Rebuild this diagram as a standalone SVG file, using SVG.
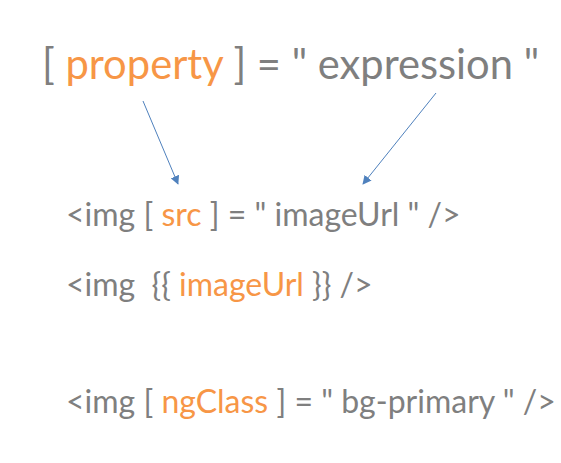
<svg xmlns="http://www.w3.org/2000/svg" width="561" height="463" viewBox="0 0 561 463">
  <style>
    text { font-family: Lato, "Open Sans", "Liberation Sans", sans-serif; fill: #7f7f7f; }
    .hl { fill: #f79646; }
    .big { font-size: 41.7px; }
    .code { font-size: 32px; }
    .conn { stroke: #4f81bd; stroke-width: 1; fill: none; marker-end: url(#arrow); }
  </style>
  <defs>
    <marker id="arrow" viewBox="0 0 10 10" refX="9" refY="5" markerWidth="9" markerHeight="9" orient="auto" markerUnits="userSpaceOnUse">
      <path d="M0,0 L10,5 L0,10 z" fill="#4f81bd"/>
    </marker>
  </defs>
  <rect width="561" height="463" fill="#ffffff"/>

  <g id="syntax">
    <text class="big" x="42" y="79">[ <tspan class="hl">property</tspan> ] = " expression "</text>
  </g>

  <g id="connectors">
    <line class="conn" x1="143" y1="101" x2="178" y2="184"/>
    <line class="conn" x1="436" y1="93" x2="363" y2="184"/>
  </g>

  <g id="src-binding">
    <text class="code" x="66" y="226">&lt;img [ <tspan class="hl">src</tspan> ] = " imageUrl " /&gt;</text>
  </g>

  <g id="interpolation">
    <text class="code" x="66" y="296" xml:space="preserve">&lt;img  {{ <tspan class="hl">imageUrl</tspan> }} /&gt;</text>
  </g>

  <g id="ngclass-binding">
    <text class="code" x="66" y="413">&lt;img [ <tspan class="hl">ngClass</tspan> ] = " bg-primary " /&gt;</text>
  </g>
</svg>
